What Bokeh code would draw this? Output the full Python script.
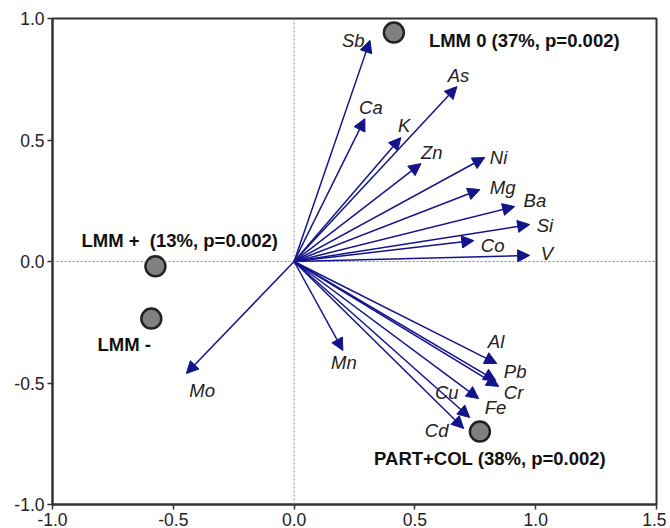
from bokeh.plotting import figure
from bokeh.models import ColumnDataSource, Arrow, NormalHead, Span, FixedTicker, Range1d
from bokeh.core.properties import value
from bokeh.embed import file_html
from bokeh.resources import INLINE

# Element vectors (arrow tips)
elements = ["Sb", "Ca", "K", "As", "Zn", "Ni", "Mg", "Ba", "Si", "Co", "V",
            "Mn", "Al", "Pb", "Cr", "Fe", "Cu", "Cd", "Mo"]
elem_x = [0.314, 0.293, 0.442, 0.674, 0.525, 0.789, 0.769, 0.913, 0.975, 0.744, 0.975,
          0.202, 0.839, 0.835, 0.847, 0.764, 0.727, 0.702, -0.446]
elem_y = [0.910, 0.588, 0.510, 0.720, 0.403, 0.428, 0.296, 0.226, 0.152, 0.086, 0.025,
          -0.366, -0.420, -0.490, -0.514, -0.564, -0.642, -0.687, -0.461]
# Element label anchors (left, middle)
label_x = [0.198, 0.269, 0.430, 0.636, 0.525, 0.810, 0.810, 0.950, 1.004, 0.773, 1.021,
           0.153, 0.802, 0.868, 0.868, 0.789, 0.583, 0.541, -0.434]
label_y = [0.909, 0.634, 0.560, 0.765, 0.449, 0.428, 0.305, 0.251, 0.148, 0.066, 0.033,
           -0.416, -0.329, -0.453, -0.539, -0.601, -0.539, -0.695, -0.531]

# Group centroids
groups = ["LMM 0 (37%, p=0.002)", "LMM +\u00a0 (13%, p=0.002)", "LMM -", "PART+COL (38%, p=0.002)"]
group_x = [0.413, -0.574, -0.591, 0.769]
group_y = [0.942, -0.020, -0.235, -0.700]
group_label_x = [0.558, -0.880, -0.814, 0.331]
group_label_y = [0.909, 0.086, -0.342, -0.811]

ticks_x = [-1.0, -0.5, 0.0, 0.5, 1.0, 1.5]
ticks_y = [-1.0, -0.5, 0.0, 0.5, 1.0]
tick_labels_x = ["-1.0", "-0.5", "0.0", "0.5", "1.0", "1.5"]
tick_labels_y = ["-1.0", "-0.5", "0.0", "0.5", "1.0"]

FONT = "Liberation Sans"
NAVY = "#14148a"

p = figure(frame_width=604, frame_height=486, output_backend="svg", toolbar_location=None,
           x_range=Range1d(-1.0, 1.5), y_range=Range1d(-1.0, 1.0),
           min_border_left=52, min_border_top=18, min_border_right=10, min_border_bottom=24)
p.xgrid.visible = False
p.ygrid.visible = False
p.outline_line_color = "#333333"
p.outline_line_width = 2
p.background_fill_color = "white"
p.border_fill_color = "white"

for ax, ticks, labels in ((p.xaxis[0], ticks_x, tick_labels_x), (p.yaxis[0], ticks_y, tick_labels_y)):
    ax.ticker = FixedTicker(ticks=ticks, minor_ticks=[])
    ax.major_label_overrides = {t: l for t, l in zip(ticks, labels)}
    ax.axis_line_width = 2
    ax.axis_line_color = "#333333"
    ax.major_tick_line_color = "#333333"
    ax.major_tick_line_width = 1.5
    ax.major_tick_out = 5
    ax.major_tick_in = 0
    ax.minor_tick_line_color = None
    ax.major_label_text_font = FONT
    ax.major_label_text_font_size = "17.5px"
    ax.major_label_text_color = "#222222"
    ax.major_label_standoff = 3

p.add_layout(Span(location=0, dimension="width", line_color="#888888", line_width=1, line_dash="2 2"))
p.add_layout(Span(location=0, dimension="height", line_color="#888888", line_width=1, line_dash="2 2"))

src = ColumnDataSource(dict(x0=[0.0] * len(elem_x), y0=[0.0] * len(elem_y), x=elem_x, y=elem_y))
p.add_layout(Arrow(end=NormalHead(size=12, fill_color=NAVY, line_color=NAVY, line_width=1),
                   x_start="x0", y_start="y0", x_end="x", y_end="y", source=src,
                   line_color=NAVY, line_width=1.5))

p.text(x=label_x, y=label_y, text=elements, text_font=value(FONT), text_font_size="18.5px",
       text_font_style="italic", text_color="#222222", text_baseline="middle", text_align="left")

p.scatter(x=group_x, y=group_y, size=20, fill_color="#808080", line_color="#222222", line_width=2.5)
p.text(x=group_label_x, y=group_label_y, text=groups, text_font=value(FONT), text_font_size="18.5px",
       text_font_style="bold", text_color="#111111", text_baseline="middle", text_align="left")

open("out.html", "w").write(file_html(p, INLINE))
